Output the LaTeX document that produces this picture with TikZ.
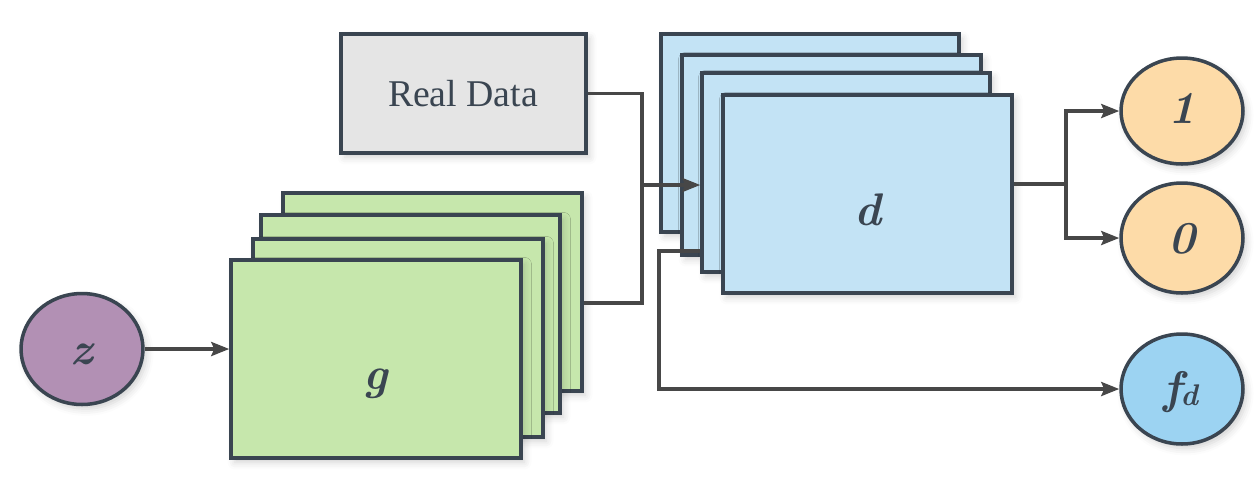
\documentclass[tikz,border=0pt]{standalone}
\usepackage{fontspec}
\newfontfamily\rdfont{Liberation Serif}
\usetikzlibrary{arrows.meta,shapes.geometric,shadows.blur}
\definecolor{edge}{HTML}{3A4551}
\definecolor{connc}{HTML}{474747}
\definecolor{gfill}{HTML}{C6E7AC}
\definecolor{dfill}{HTML}{C3E3F5}
\definecolor{rfill}{HTML}{E5E5E5}
\definecolor{ofill}{HTML}{FDDBA8}
\definecolor{ffill}{HTML}{9CD3F2}
\definecolor{zfill}{HTML}{B290B4}
\tikzset{
  shp/.style={draw=edge, line width=2pt, inner sep=0pt,
    blur shadow={shadow xshift=2pt, shadow yshift=-2.5pt, shadow blur radius=4pt, shadow opacity=18}},
  gbox/.style={shp, rectangle, fill=gfill},
  dbox/.style={shp, rectangle, fill=dfill},
  rbox/.style={shp, rectangle, fill=rfill},
  oval/.style={shp, ellipse, minimum width=2.44cm, minimum height=2.2cm},
  lbl/.style={text=edge, font=\fontsize{26}{30}\selectfont\bfseries\itshape, anchor=base, inner sep=0pt},
  conn/.style={draw=connc, line width=2pt},
  arr/.style={conn, -{Stealth[length=0.36cm,width=0.28cm,inset=0.06cm]}},
}
\begin{document}
\begin{tikzpicture}[x=0.02cm,y=-0.02cm]
\useasboundingbox (0,0) rectangle (1259,485);
% Real Data
\node[rbox, minimum width=4.9cm, minimum height=2.38cm] (rd) at (463.5,93.5) {};
\node[text=edge, font=\rdfont\fontsize{21.5}{24}\selectfont, anchor=base, inner sep=0pt] (rdt) at (463,106) {Real Data};
% g stack
\node[gbox, minimum width=5.98cm, minimum height=3.96cm] (g4) at (432.5,292) {};
\node[gbox, minimum width=5.98cm, minimum height=3.96cm] (g3) at (410.5,314) {};
\node[gbox, minimum width=5.8cm, minimum height=3.96cm] (g2) at (398,338) {};
\node[gbox, minimum width=5.8cm, minimum height=3.96cm] (g1) at (376,359) {};
\node[lbl] (gt) at (376,389) {g};
% d stack
\node[dbox, minimum width=5.96cm, minimum height=3.96cm] (d4) at (810,133) {};
\node[dbox, minimum width=5.98cm, minimum height=4.0cm] (d3) at (831.5,155) {};
\node[dbox, minimum width=5.76cm, minimum height=3.98cm] (d2) at (846,172.5) {};
\node[dbox, minimum width=5.78cm, minimum height=3.96cm] (d1) at (867.5,194) {};
\node[lbl] (dt) at (868,225) {d};
% ellipses
\node[oval, fill=zfill, minimum height=2.22cm] (z) at (82,349) {};
\node[lbl] (zt) at (82,364) {z};
\node[oval, fill=ofill, minimum height=2.12cm] (one) at (1182,111) {};
\node[lbl] (onet) at (1182,123) {1};
\node[oval, fill=ofill] (zero) at (1182,238) {};
\node[lbl] (zerot) at (1182,253) {0};
\node[oval, fill=ffill] (fd) at (1182,389) {};
\node[lbl] (fdt) at (1181,403) {f\kern-0.04em\raisebox{-0.1ex}{\fontsize{17}{20}\selectfont d}};
% connectors
\coordinate (j1) at (642,185);
\coordinate (j2) at (659,251);
\coordinate (j3) at (1066,184);
\draw[arr] (z.east) -- (z.east -| g1.west);
\draw[conn] (g4.east |- 0,303) -| (j1);
\draw[conn] (rd.east) -| (j1);
\draw[arr] (j1) -- (j1 -| d2.west);
\draw[arr] (d2.west |- j2) -- (j2) |- (fd.west);
\draw[conn] (d1.east |- j3) -- (j3);
\draw[arr] (j3) |- (one.west);
\draw[arr] (j3) |- (zero.west);
\end{tikzpicture}
\end{document}
